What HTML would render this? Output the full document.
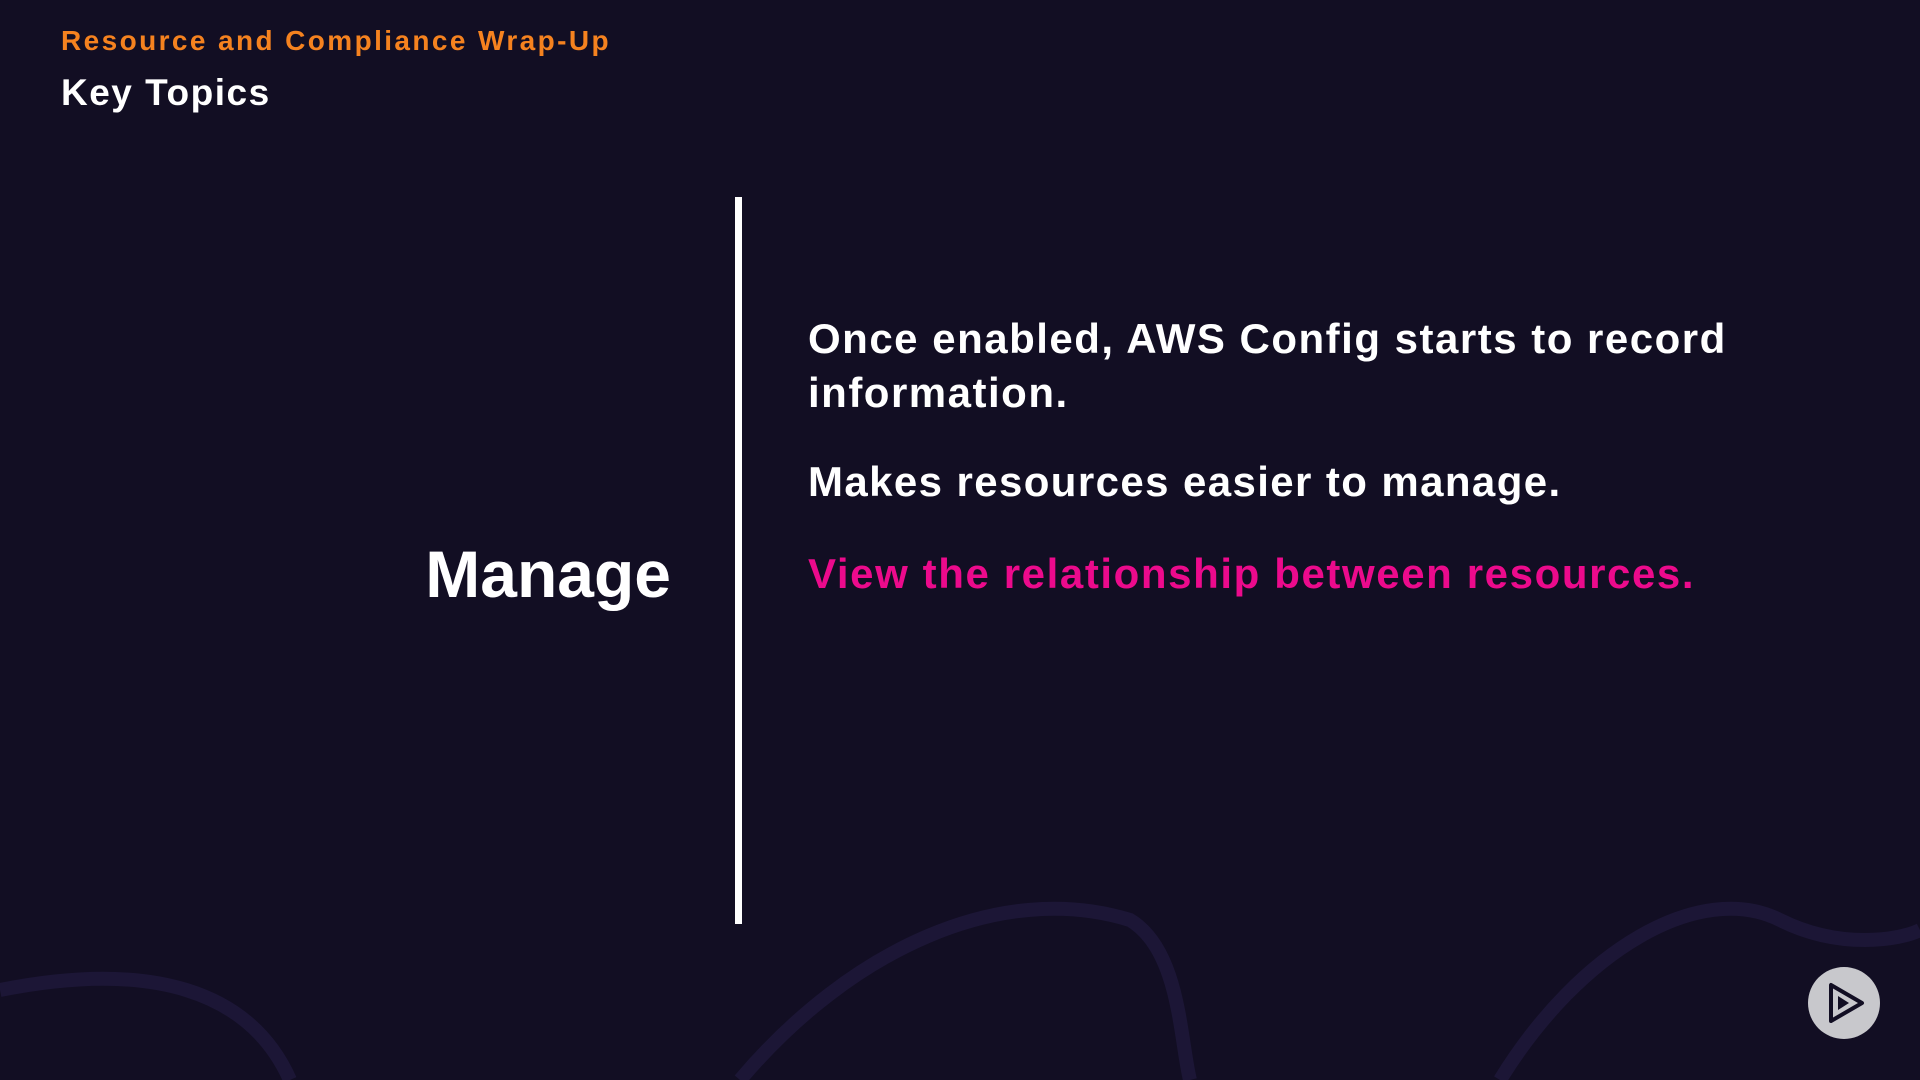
<!DOCTYPE html>
<html><head><meta charset="utf-8"><style>
html,body{margin:0;padding:0}
body{width:1920px;height:1080px;background:#120e23;position:relative;overflow:hidden;font-family:"Liberation Sans",sans-serif;font-weight:bold}
.t{position:absolute;white-space:nowrap;line-height:1}
</style></head><body>
<svg width="1920" height="1080" style="position:absolute;left:0;top:0">
<path d="M0 990 C150 960 250 990 290 1080" stroke="#1c1636" stroke-width="14" fill="none"/>
<path d="M740 1080 C850 950 1000 880 1130 920 C1180 950 1180 1040 1190 1080" stroke="#1c1636" stroke-width="14" fill="none"/>
<path d="M1500 1080 C1580 950 1700 880 1780 920 C1840 950 1900 940 1920 930" stroke="#1c1636" stroke-width="14" fill="none"/>
<circle cx="1844" cy="1003" r="36" fill="#c8c8cc"/>
<path d="M1831 985 L1831 1021 L1862 1003 Z" fill="none" stroke="#120e23" stroke-width="4" stroke-linejoin="round"/>
<path d="M1838 996 L1838 1010 L1849 1003 Z" fill="#120e23"/>
</svg>
<div class="t" style="left:61px;top:27px;font-size:28px;color:#f5821f;letter-spacing:2.4px">Resource and Compliance Wrap-Up</div>
<div class="t" style="left:61px;top:74px;font-size:37px;color:#fff;letter-spacing:1.5px">Key Topics</div>
<div style="position:absolute;left:735px;top:197px;width:7px;height:727px;background:#fff"></div>
<div class="t" style="right:1249px;top:541px;font-size:66px;color:#fff">Manage</div>
<div class="t" style="left:808px;top:318px;font-size:42px;color:#fff;letter-spacing:1.5px">Once enabled, AWS Config starts to record</div>
<div class="t" style="left:808px;top:372px;font-size:42px;color:#fff;letter-spacing:1.5px">information.</div>
<div class="t" style="left:808px;top:461px;font-size:42px;color:#fff;letter-spacing:1.4px">Makes resources easier to manage.</div>
<div class="t" style="left:808px;top:553px;font-size:42px;color:#ec0a8c;letter-spacing:1.6px">View the relationship between resources.</div>
</body></html>
